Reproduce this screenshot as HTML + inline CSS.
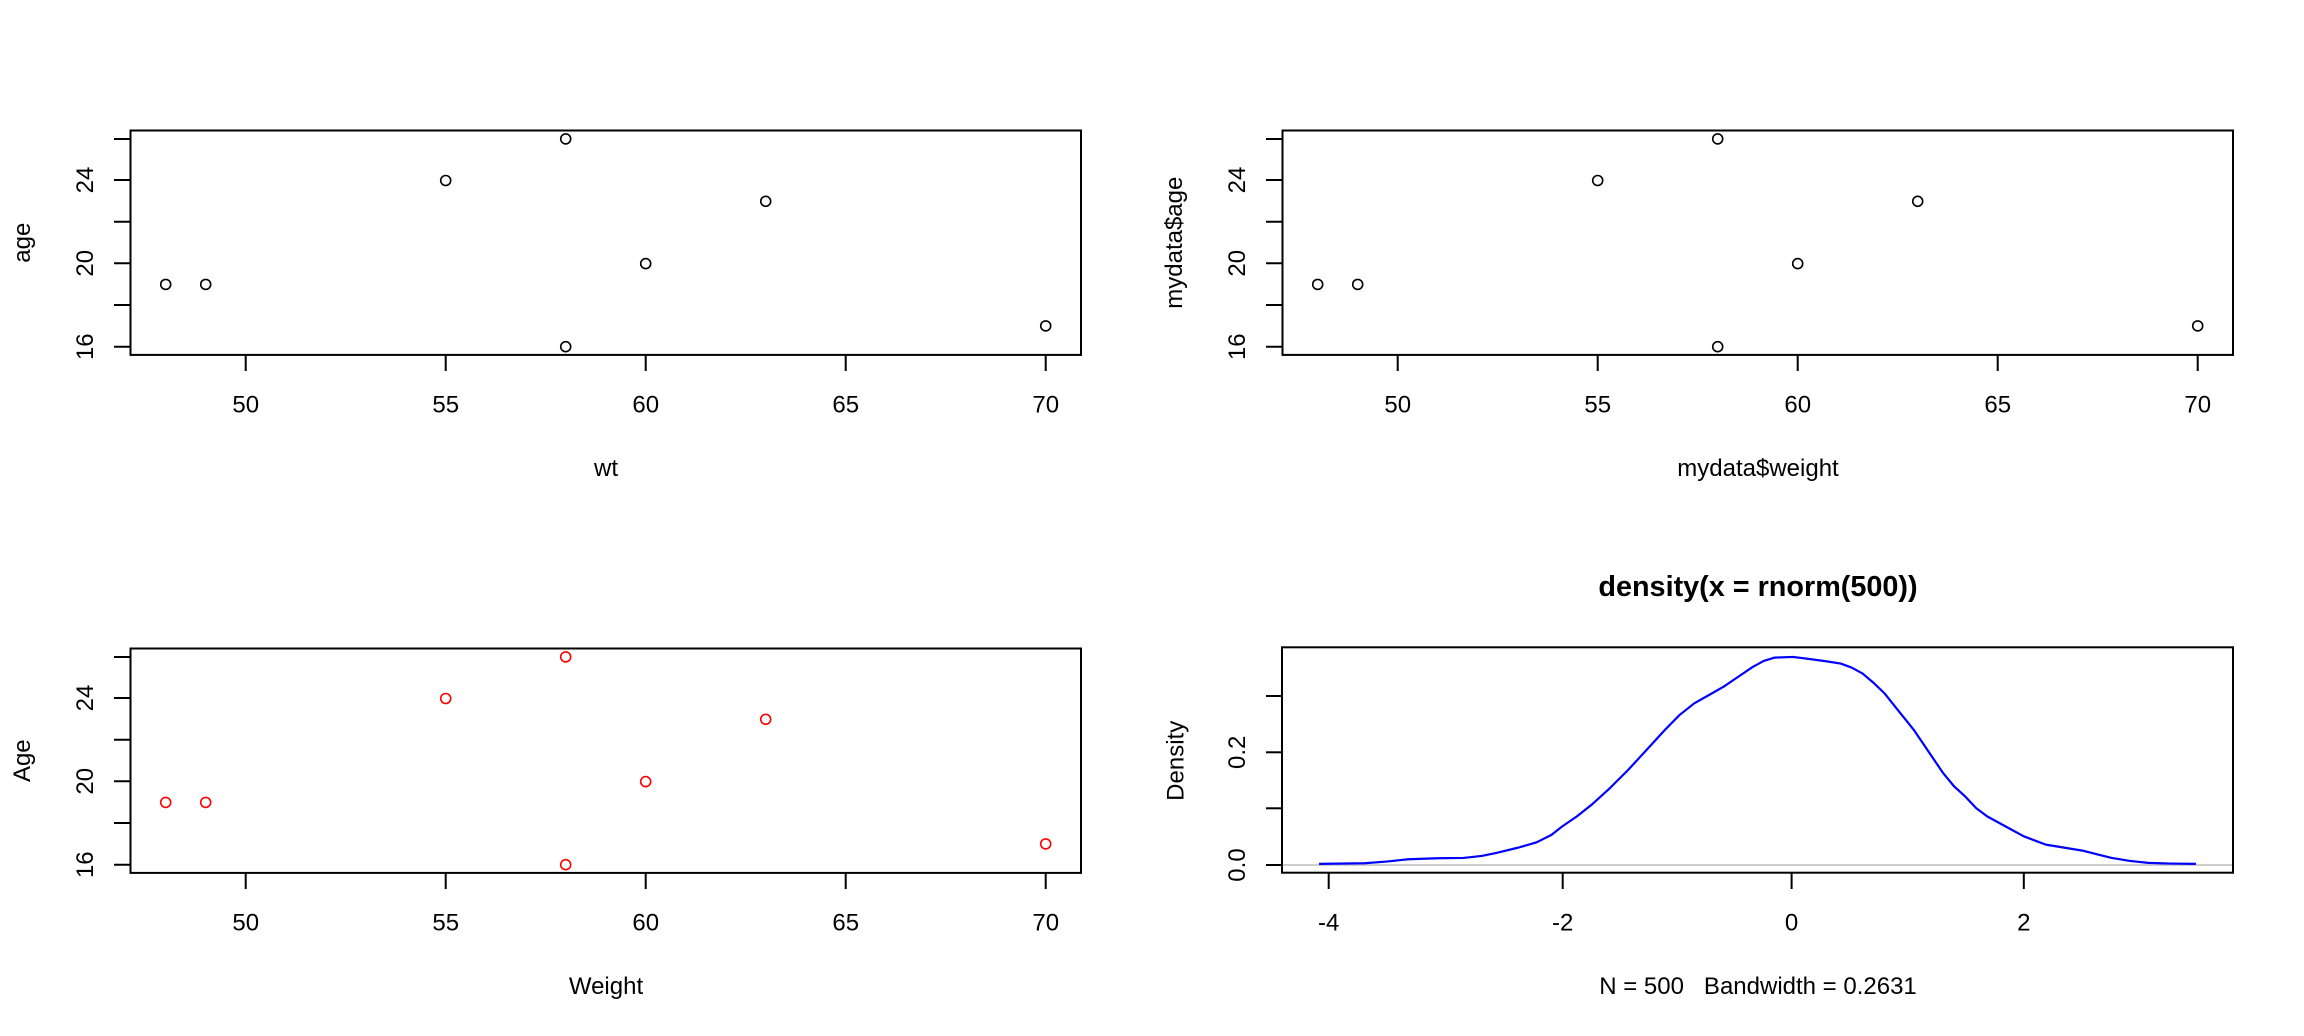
<!DOCTYPE html>
<html><head><meta charset="utf-8"><style>
html,body{margin:0;padding:0;background:#fff;}
svg{display:block;}
text{font-family:"Liberation Sans",Arial,sans-serif;font-size:24px;fill:#000;}
</style></head><body>
<svg width="2304" height="1036" viewBox="0 0 2304 1036" xmlns="http://www.w3.org/2000/svg">
<rect width="2304" height="1036" fill="#fff"/>

<!-- Panel 1 -->
<g>
<rect x="130.5" y="130.5" width="950.5" height="224.4" fill="none" stroke="#000" stroke-width="2"/>
<g stroke="#000" stroke-width="2">
<line x1="245.7" y1="354.9" x2="245.7" y2="371"/><line x1="445.7" y1="354.9" x2="445.7" y2="371"/><line x1="645.7" y1="354.9" x2="645.7" y2="371"/><line x1="845.7" y1="354.9" x2="845.7" y2="371"/><line x1="1045.7" y1="354.9" x2="1045.7" y2="371"/>
<line x1="114" y1="346.7" x2="130.5" y2="346.7"/><line x1="114" y1="305" x2="130.5" y2="305"/><line x1="114" y1="263.3" x2="130.5" y2="263.3"/><line x1="114" y1="221.7" x2="130.5" y2="221.7"/><line x1="114" y1="180" x2="130.5" y2="180"/><line x1="114" y1="139" x2="130.5" y2="139"/>
</g>
<g text-anchor="middle">
<text x="245.7" y="412.7">50</text><text x="445.7" y="412.7">55</text><text x="645.7" y="412.7">60</text><text x="845.7" y="412.7">65</text><text x="1045.7" y="412.7">70</text>
<text transform="translate(93,346.7) rotate(-90)">16</text><text transform="translate(93,263.3) rotate(-90)">20</text><text transform="translate(93,180) rotate(-90)">24</text>
<text x="606" y="476">wt</text>
<text transform="translate(30,242.7) rotate(-90)">age</text>
</g>
<g fill="none" stroke="#000" stroke-width="1.6">
<circle cx="165.7" cy="284.4" r="5"/><circle cx="205.7" cy="284.4" r="5"/><circle cx="445.7" cy="180.5" r="5"/><circle cx="565.7" cy="138.9" r="5"/><circle cx="565.7" cy="346.7" r="5"/><circle cx="645.7" cy="263.6" r="5"/><circle cx="765.7" cy="201.3" r="5"/><circle cx="1045.7" cy="325.9" r="5"/>
</g>
</g>

<!-- Panel 2 -->
<g transform="translate(1152,0)">
<rect x="130.5" y="130.5" width="950.5" height="224.4" fill="none" stroke="#000" stroke-width="2"/>
<g stroke="#000" stroke-width="2">
<line x1="245.7" y1="354.9" x2="245.7" y2="371"/><line x1="445.7" y1="354.9" x2="445.7" y2="371"/><line x1="645.7" y1="354.9" x2="645.7" y2="371"/><line x1="845.7" y1="354.9" x2="845.7" y2="371"/><line x1="1045.7" y1="354.9" x2="1045.7" y2="371"/>
<line x1="114" y1="346.7" x2="130.5" y2="346.7"/><line x1="114" y1="305" x2="130.5" y2="305"/><line x1="114" y1="263.3" x2="130.5" y2="263.3"/><line x1="114" y1="221.7" x2="130.5" y2="221.7"/><line x1="114" y1="180" x2="130.5" y2="180"/><line x1="114" y1="139" x2="130.5" y2="139"/>
</g>
<g text-anchor="middle">
<text x="245.7" y="412.7">50</text><text x="445.7" y="412.7">55</text><text x="645.7" y="412.7">60</text><text x="845.7" y="412.7">65</text><text x="1045.7" y="412.7">70</text>
<text transform="translate(93,346.7) rotate(-90)">16</text><text transform="translate(93,263.3) rotate(-90)">20</text><text transform="translate(93,180) rotate(-90)">24</text>
<text x="606" y="476">mydata$weight</text>
<text transform="translate(30,242.7) rotate(-90)">mydata$age</text>
</g>
<g fill="none" stroke="#000" stroke-width="1.6">
<circle cx="165.7" cy="284.4" r="5"/><circle cx="205.7" cy="284.4" r="5"/><circle cx="445.7" cy="180.5" r="5"/><circle cx="565.7" cy="138.9" r="5"/><circle cx="565.7" cy="346.7" r="5"/><circle cx="645.7" cy="263.6" r="5"/><circle cx="765.7" cy="201.3" r="5"/><circle cx="1045.7" cy="325.9" r="5"/>
</g>
</g>

<!-- Panel 3 -->
<g transform="translate(0,518)">
<rect x="130.5" y="130.5" width="950.5" height="224.4" fill="none" stroke="#000" stroke-width="2"/>
<g stroke="#000" stroke-width="2">
<line x1="245.7" y1="354.9" x2="245.7" y2="371"/><line x1="445.7" y1="354.9" x2="445.7" y2="371"/><line x1="645.7" y1="354.9" x2="645.7" y2="371"/><line x1="845.7" y1="354.9" x2="845.7" y2="371"/><line x1="1045.7" y1="354.9" x2="1045.7" y2="371"/>
<line x1="114" y1="346.7" x2="130.5" y2="346.7"/><line x1="114" y1="305" x2="130.5" y2="305"/><line x1="114" y1="263.3" x2="130.5" y2="263.3"/><line x1="114" y1="221.7" x2="130.5" y2="221.7"/><line x1="114" y1="180" x2="130.5" y2="180"/><line x1="114" y1="139" x2="130.5" y2="139"/>
</g>
<g text-anchor="middle">
<text x="245.7" y="412.7">50</text><text x="445.7" y="412.7">55</text><text x="645.7" y="412.7">60</text><text x="845.7" y="412.7">65</text><text x="1045.7" y="412.7">70</text>
<text transform="translate(93,346.7) rotate(-90)">16</text><text transform="translate(93,263.3) rotate(-90)">20</text><text transform="translate(93,180) rotate(-90)">24</text>
<text x="606" y="476">Weight</text>
<text transform="translate(30,242.7) rotate(-90)">Age</text>
</g>
<g fill="none" stroke="#f00" stroke-width="1.6">
<circle cx="165.7" cy="284.4" r="5"/><circle cx="205.7" cy="284.4" r="5"/><circle cx="445.7" cy="180.5" r="5"/><circle cx="565.7" cy="138.9" r="5"/><circle cx="565.7" cy="346.7" r="5"/><circle cx="645.7" cy="263.6" r="5"/><circle cx="765.7" cy="201.3" r="5"/><circle cx="1045.7" cy="325.9" r="5"/>
</g>
</g>

<!-- Panel 4: density -->
<g>
<line x1="1282" y1="865" x2="2233" y2="865" stroke="#bebebe" stroke-width="1.5"/>
<g transform="translate(1152,560.6) scale(0.7326,0.3322)">
<polyline fill="none" stroke="#0000ff" stroke-width="2.2" vector-effect="non-scaling-stroke" stroke-linejoin="round"
points="228,913 290,911 320,906 350,899 390,896 425,895 450,889 470,880 500,864 525,848 545,826 560,800 580,770 600,735 625,685 650,630 675,570 700,510 720,465 740,430 760,405 780,380 800,350 820,320 835,302 850,292 875,290 900,297 920,303 940,310 955,322 970,340 985,368 1000,400 1020,455 1040,510 1060,575 1080,640 1095,680 1110,710 1125,745 1140,770 1165,800 1190,830 1220,855 1245,864 1270,873 1290,884 1310,895 1335,904 1360,910 1390,912 1425,913"/>
</g>
<rect x="1282" y="647.3" width="951" height="225.4" fill="none" stroke="#000" stroke-width="2"/>
<g stroke="#000" stroke-width="2">
<line x1="1328.7" y1="872.7" x2="1328.7" y2="889"/><line x1="1562.7" y1="872.7" x2="1562.7" y2="889"/><line x1="1791.6" y1="872.7" x2="1791.6" y2="889"/><line x1="2023.8" y1="872.7" x2="2023.8" y2="889"/>
<line x1="1266" y1="865" x2="1282" y2="865"/><line x1="1266" y1="808.3" x2="1282" y2="808.3"/><line x1="1266" y1="752.3" x2="1282" y2="752.3"/><line x1="1266" y1="696" x2="1282" y2="696"/>
</g>
<g text-anchor="middle">
<text x="1328.7" y="930.7">-4</text><text x="1562.7" y="930.7">-2</text><text x="1791.6" y="930.7">0</text><text x="2023.8" y="930.7">2</text>
<text transform="translate(1245,865) rotate(-90)">0.0</text><text transform="translate(1245,752.3) rotate(-90)">0.2</text>
<text transform="translate(1183.7,760.8) rotate(-90)">Density</text>
<text x="1758" y="994" style="white-space:pre">N = 500   Bandwidth = 0.2631</text>
<text x="1758" y="596" style="font-weight:bold;font-size:28.8px">density(x = rnorm(500))</text>
</g>
</g>
</svg>
</body></html>
